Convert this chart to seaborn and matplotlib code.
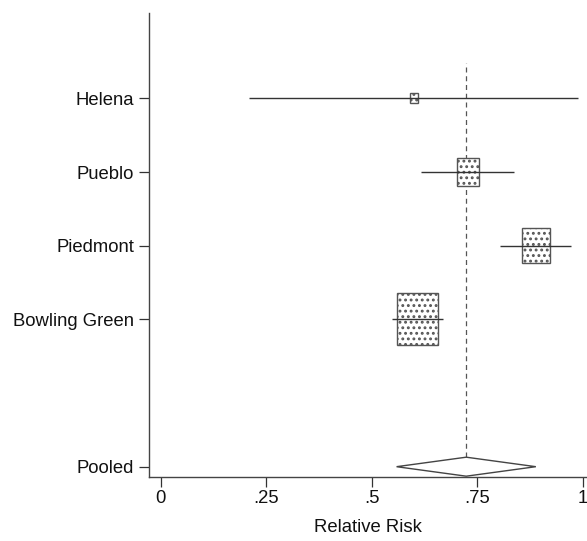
import numpy as np
import pandas as pd
import matplotlib
matplotlib.use("Agg")
import matplotlib.pyplot as plt
import seaborn as sns

# ---- data ----
studies = ["Helena", "Pueblo", "Piedmont", "Bowling Green"]
rr = [0.60, 0.729, 0.889, 0.609]
ci_low = [0.21, 0.618, 0.804, 0.549]
ci_high = [0.988, 0.837, 0.972, 0.668]
weights = [2.1, 16.1, 26.0, 55.8]   # percent weight (box area)
pooled_label = "Pooled"
pooled_rr = 0.724
pooled_low = 0.559
pooled_high = 0.889
xticks = [0, 0.25, 0.5, 0.75, 1]
xtick_labels = ["0", ".25", ".5", ".75", "1"]
xlabel = "Relative Risk"

# row positions (top to bottom), one empty row before pooled
ypos = [6, 5, 4, 3]
pooled_y = 1

sns.set_theme(style="ticks")
plt.rcParams["font.family"] = ["Liberation Sans", "DejaVu Sans"]
plt.rcParams["hatch.linewidth"] = 1.3
plt.rcParams["hatch.color"] = "#000000"

df = pd.DataFrame({"study": studies, "rr": rr, "lo": ci_low, "hi": ci_high,
                   "w": weights, "y": ypos})

fig = plt.figure(figsize=(5.87, 5.41), dpi=100)
ax = fig.add_axes([149 / 587, 64 / 541, 1 - 149 / 587, (477 - 12.7) / 541])

line_col = "#333333"

# confidence interval lines
ax.hlines(df["y"], df["lo"], df["hi"], color=line_col, lw=1.0, zorder=3)

# weight boxes (area proportional to weight)
side = np.sqrt(df["w"] / 100.0)
bw = side * 0.130
bh = side * 0.94
ax.bar(df["rr"], bh, width=bw, bottom=df["y"] - bh / 2, facecolor="white",
       edgecolor="#555555", linewidth=1.0, hatch="...", zorder=2)

# pooled diamond
dh = 0.129
ax.fill([pooled_low, pooled_rr, pooled_high, pooled_rr],
        [pooled_y, pooled_y + dh, pooled_y, pooled_y - dh],
        facecolor="white", edgecolor="#444444", linewidth=1.0, zorder=3)

# dashed reference line at pooled estimate
ax.plot([pooled_rr, pooled_rr], [pooled_y + dh, 6.48], color="#555555",
        lw=0.9, ls=(0, (4, 3)), zorder=1)

ax.set_xlim(-0.0276, 1.0102)
ax.set_ylim(0.86, 7.163)
ax.set_xticks(xticks)
ax.set_xticklabels(xtick_labels)
ax.set_yticks(ypos + [pooled_y])
ax.set_yticklabels(studies + [pooled_label])
ax.set_xlabel(xlabel, fontsize=13.3, labelpad=8, color="#111111")
ax.set_ylabel("")

ax.tick_params(axis="both", labelsize=13.3, length=7.2, width=0.9,
               color="#333333", labelcolor="#111111")
ax.tick_params(axis="x", pad=2.5)
ax.tick_params(axis="y", pad=3.6)

sns.despine(ax=ax, top=True, right=True)
for s in ["left", "bottom"]:
    ax.spines[s].set_color("#444444")
    ax.spines[s].set_linewidth(1.0)
ax.set_facecolor("white")
fig.patch.set_facecolor("white")

fig.savefig("out.png", dpi=100)
